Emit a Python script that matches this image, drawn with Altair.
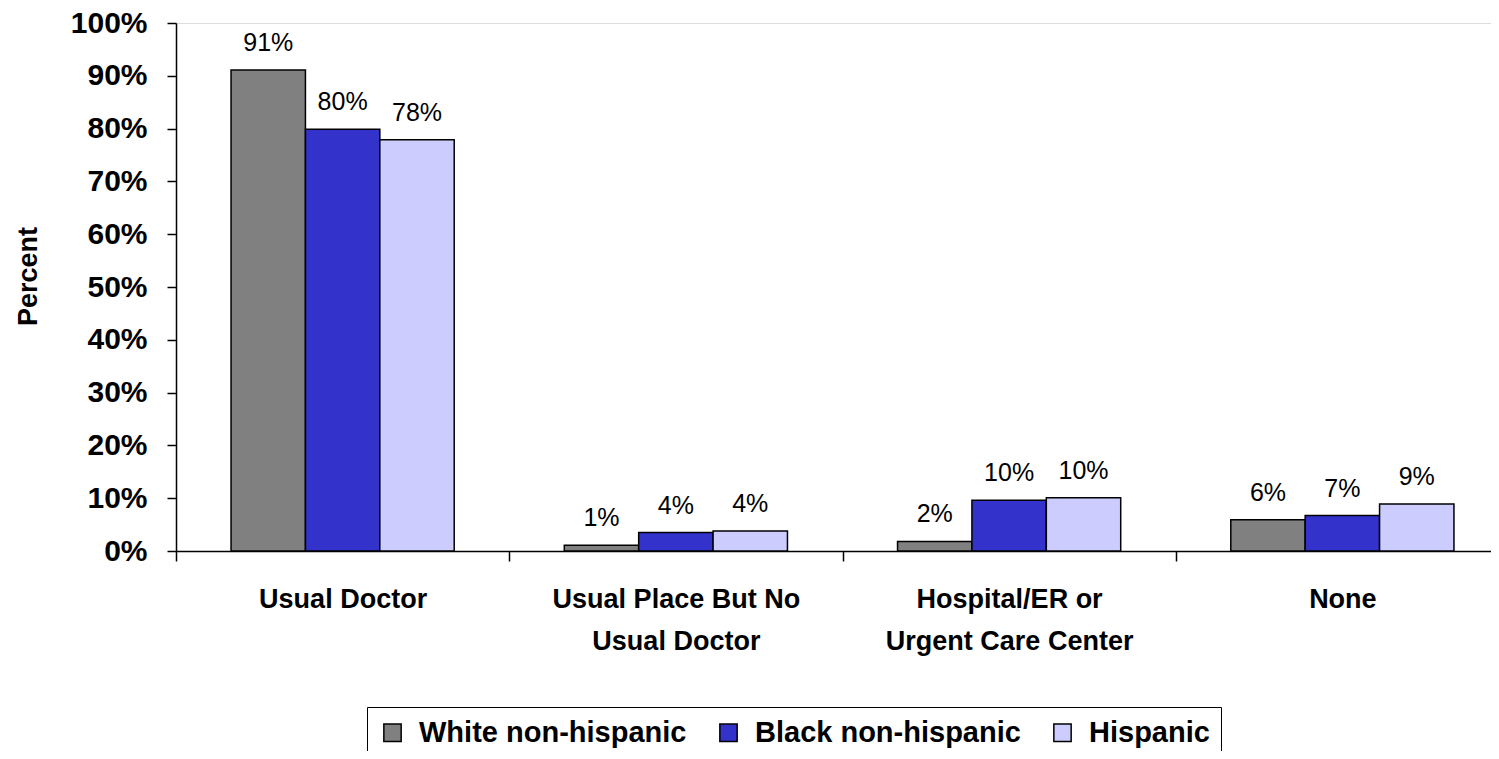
import altair as alt
import pandas as pd

categories = ["Usual Doctor", "Usual Place But No|Usual Doctor",
              "Hospital/ER or|Urgent Care Center", "None"]
groups = ["White non-hispanic", "Black non-hispanic", "Hispanic"]
white = [91.1, 1.1, 1.8, 5.9]
black = [79.9, 3.5, 9.6, 6.7]
hispanic = [77.9, 3.8, 10.1, 8.9]
white_labels = ["91%", "1%", "2%", "6%"]
black_labels = ["80%", "4%", "10%", "7%"]
hispanic_labels = ["78%", "4%", "10%", "9%"]
colors = ["#808080", "#3333CC", "#CCCCFF"]

rows = []
for g, vals, labs in zip(groups, [white, black, hispanic],
                         [white_labels, black_labels, hispanic_labels]):
    for c, v, l in zip(categories, vals, labs):
        rows.append({"category": c, "group": g, "value": v, "label": l})
df = pd.DataFrame(rows)

FONT = "Liberation Sans"

x_enc = alt.X(
    "category:N", sort=categories,
    scale=alt.Scale(range=[0, 1333], paddingInner=0, paddingOuter=0),
    axis=alt.Axis(
        title=None, labelAngle=0, labelExpr="split(datum.label, '|')",
        labelFont=FONT, labelFontSize=27, labelFontWeight="bold",
        labelColor="black", labelPadding=25, labelLineHeight=42,
        labelBaseline="top", labelOverlap=False, labelFlush=False,
        labelLimit=0,
        domainColor="black", domainWidth=1.5, tickColor="black",
        tickWidth=1.5, tickSize=10, tickBand="extent",
    ),
)
xoff_enc = alt.XOffset("group:N", sort=groups,
                       scale=alt.Scale(paddingInner=0, paddingOuter=0.74))
y_enc = alt.Y(
    "value:Q",
    scale=alt.Scale(domain=[0, 100], nice=False),
    axis=alt.Axis(
        values=list(range(0, 101, 10)), labelExpr="datum.value + '%'",
        grid=False, domainColor="black", domainWidth=1.5,
        tickColor="black", tickWidth=1.5, tickSize=9,
        labelFont=FONT, labelFontSize=30, labelFontWeight="bold",
        labelColor="black", labelPadding=20,
        title="Percent", titleFont=FONT, titleFontSize=27,
        titleFontWeight="bold", titleColor="black",
        titleX=-148, titleY=253, titleAngle=270,
        titleAlign="center", titleBaseline="middle",
    ),
)

bars = alt.Chart(df).mark_bar(stroke="black", strokeWidth=1.5).encode(
    x=x_enc, xOffset=xoff_enc, y=y_enc,
    color=alt.Color(
        "group:N", sort=groups,
        scale=alt.Scale(domain=groups, range=colors),
        legend=alt.Legend(
            title=None, orient="none", legendX=191, legendY=684,
            direction="horizontal", columns=3,
            strokeColor="black", fillColor="white", padding=11,
            symbolType="square", symbolSize=300,
            symbolStrokeColor="black", symbolStrokeWidth=1.5,
            symbolOpacity=1,
            labelFont=FONT, labelFontSize=29, labelFontWeight="bold",
            labelColor="black", labelOffset=12, columnPadding=27,
            labelLimit=0,
        ),
    ),
)

text = alt.Chart(df).mark_text(
    font=FONT, fontSize=25, baseline="alphabetic", dy=-19, color="black"
).encode(x=x_enc, xOffset=xoff_enc, y=y_enc, text="label:N")

chart = alt.layer(bars, text).properties(
    width=1315, height=528,
    autosize=alt.AutoSizeParams(type="none"),
    padding={"left": 168, "top": 15, "right": 0, "bottom": 200},
).configure_view(stroke=None).configure(background="white")

chart.save("out.html", embed_options={"renderer": "svg", "actions": False})
